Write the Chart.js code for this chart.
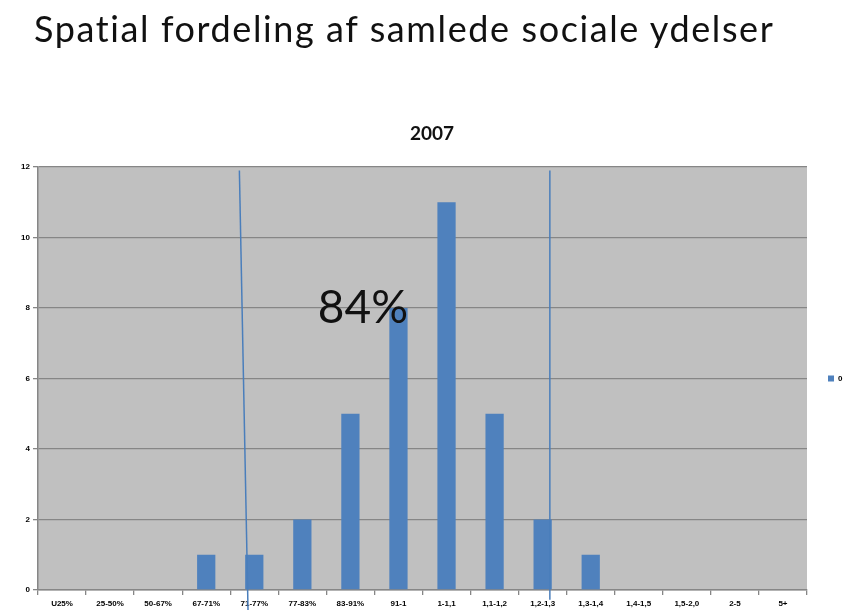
<!DOCTYPE html>
<html>
<head>
<meta charset="utf-8">
<script src="https://cdn.jsdelivr.net/npm/chart.js@4/dist/chart.umd.min.js"></script>
<style>
  html, body { margin: 0; padding: 0; background: #fff; overflow: hidden; }
  #wrap { position: absolute; left: 0; top: 0; width: 846px; height: 615px; }
  #titulo {
    position: absolute; left: 34px; top: 6px; margin: 0;
    font: 400 36px Lato, sans-serif; color: #111; white-space: nowrap;
    letter-spacing: 1.6px; font-variant-ligatures: none;
  }
  #subtitulo {
    position: absolute; left: 410px; top: 121px;
    font: 700 19px Lato, sans-serif; color: #111;
  }
</style>
</head>
<body>
<div id="wrap"><canvas id="chart" width="846" height="615"></canvas></div>
<h1 id="titulo">Spatial fordeling af samlede sociale ydelser</h1>
<div id="subtitulo">2007</div>
<script>
// intervaller og antal
const categories = ["U25%", "25-50%", "50-67%", "67-71%", "71-77%", "77-83%", "83-91%", "91-1",
  "1-1,1", "1,1-1,2", "1,2-1,3", "1,3-1,4", "1,4-1,5", "1,5-2,0", "2-5", "5+"];
const values = [0, 0, 0, 1, 1, 2, 5, 8, 11, 5, 2, 1, 0, 0, 0, 0];
const yTicks = [0, 2, 4, 6, 8, 10, 12];
const seriesLabel = "0";

// markeringslinjer (kategori-indeks, værdi)
const lineLeftX = [3.69, 3.87];
const lineLeftY = [11.9, -0.57];
const lineRightX = [10.15, 10.15];
const lineRightY = [11.9, -0.28];
const noteText = "84%";
const notePos = [6.26, 7.57];

const BLUE = "#4f81bd";
const GRID = "#868686";

const bgPlugin = {
  id: "plotBg",
  beforeDraw(chart) {
    const { ctx, chartArea: a } = chart;
    ctx.save();
    ctx.fillStyle = "#c0c0c0";
    ctx.fillRect(a.left, a.top, a.right - a.left, a.bottom - a.top);
    ctx.restore();
  },
};

const marksPlugin = {
  id: "marks",
  afterDraw(chart) {
    const { ctx } = chart;
    const x = chart.scales.x, y = chart.scales.y;
    ctx.save();
    ctx.strokeStyle = "#4a7ebb";
    ctx.lineWidth = 1.5;
    [[lineLeftX, lineLeftY], [lineRightX, lineRightY]].forEach(([xs, ys]) => {
      ctx.beginPath();
      ctx.moveTo(x.getPixelForValue(xs[0]), y.getPixelForValue(ys[0]));
      ctx.lineTo(x.getPixelForValue(xs[1]), y.getPixelForValue(ys[1]));
      ctx.stroke();
    });
    ctx.fillStyle = "#111";
    ctx.font = "400 46px Lato, sans-serif";
    ctx.textAlign = "center";
    ctx.textBaseline = "alphabetic";
    ctx.fillText(noteText, x.getPixelForValue(notePos[0]), y.getPixelForValue(notePos[1]));
    ctx.restore();
  },
};

const tickFont = { family: "'Liberation Sans', Arial, sans-serif", size: 8, weight: "bold" };

new Chart(document.getElementById("chart"), {
  type: "bar",
  data: {
    labels: categories,
    datasets: [{
      label: seriesLabel,
      data: values,
      backgroundColor: BLUE,
      borderWidth: 0,
      categoryPercentage: 1,
      barPercentage: 0.38,
    }],
  },
  options: {
    responsive: false,
    animation: false,
    layout: { padding: { top: 167, left: 0, right: 0, bottom: 0 } },
    plugins: {
      title: { display: false },
      tooltip: { enabled: false },
      legend: {
        position: "right",
        fullSize: false,
        maxWidth: 39,
        labels: {
          boxWidth: 6,
          boxHeight: 6,
          padding: 21,
          color: "#000",
          font: tickFont,
        },
      },
    },
    scales: {
      x: {
        afterFit: (s) => { s.height = 25; },
        grid: { drawOnChartArea: false, drawTicks: true, tickLength: 5, color: GRID, lineWidth: 1.3 },
        border: { color: GRID, width: 1.5 },
        ticks: { color: "#000", font: tickFont, padding: 4, maxRotation: 0, autoSkip: false },
      },
      y: {
        min: 0,
        max: 12,
        afterFit: (s) => { s.width = 38; },
        afterBuildTicks: (s) => { s.ticks = yTicks.map((v) => ({ value: v })); },
        grid: { color: GRID, lineWidth: 1.3, tickLength: 5 },
        border: { color: GRID, width: 1.5 },
        ticks: { color: "#000", font: tickFont, padding: 3 },
      },
    },
  },
  plugins: [bgPlugin, marksPlugin],
});
</script>
</body>
</html>
